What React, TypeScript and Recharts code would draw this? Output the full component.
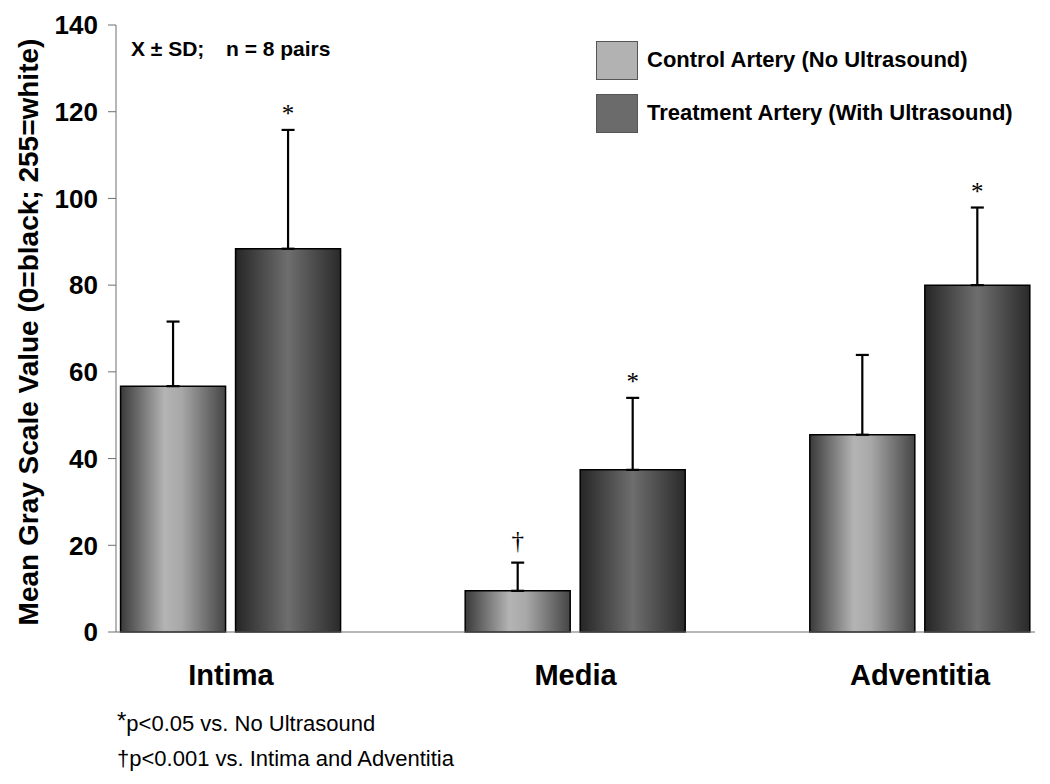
import React from 'react';
import { BarChart, Bar, XAxis, YAxis, ErrorBar, LabelList, Legend } from 'recharts';

// values (mean gray scale, +SD)
const categories = ['Intima', 'Media', 'Adventitia'];
const controlMean = [56.7, 9.5, 45.5];
const controlSd = [14.9, 6.5, 18.4];
const treatmentMean = [88.4, 37.4, 80.0];
const treatmentSd = [27.4, 16.6, 17.9];
const controlMarks = ['', '†', ''];
const treatmentMarks = ['*', '*', '*'];
const yTicks = [0, 20, 40, 60, 80, 100, 120, 140];

const seriesNames = ['Control Artery (No Ultrasound)', 'Treatment Artery (With Ultrasound)'];
const seriesSwatch = ['#b2b2b2', '#6b6b6b'];

const data = categories.map((name, i) => ({
  name,
  idx: i,
  control: controlMean[i],
  controlErr: [0, controlSd[i]],
  treatment: treatmentMean[i],
  treatmentErr: [0, treatmentSd[i]],
}));

const FONT = '"Liberation Sans", Arial, sans-serif';
const FRAME = '#6e6e6e';

function makeMark(marks: string[], means: number[], sds: number[]) {
  return (props: any) => {
    const { x, y, width, height, value } = props;
    const i = Number(value);
    const m = marks[i];
    if (!m) return null;
    // pixel per unit from the bar itself
    const k = height / means[i];
    const capY = y - sds[i] * k;
    const off = m === '*' ? 8 : 14;
    return (
      <text
        x={x + width / 2}
        y={capY - off}
        textAnchor="middle"
        fontFamily='"Liberation Serif", "Times New Roman", serif'
        fontSize={25}
        fill="#000"
      >
        {m}
      </text>
    );
  };
}

function LegendBox() {
  return (
    <div style={{ fontFamily: FONT }}>
      {seriesNames.map((n, i) => (
        <div key={n} style={{ display: 'flex', alignItems: 'center', height: 40, marginBottom: i === 0 ? 13 : 0 }}>
          <div
            style={{
              width: 42,
              height: 39,
              background: seriesSwatch[i],
              border: '1px solid #555',
              boxSizing: 'border-box',
            }}
          />
          <span style={{ marginLeft: 9, fontSize: 22, fontWeight: 'bold', color: '#000', whiteSpace: 'nowrap' }}>{n}</span>
        </div>
      ))}
    </div>
  );
}

export default function App() {
  return (
    <div style={{ position: 'absolute', left: 0, top: 0, width: 1050, height: 784, background: '#fff' }}>
      <BarChart
        width={1050}
        height={784}
        data={data}
        margin={{ top: 25, right: 15, bottom: 92, left: 40 }}
        barGap={10}
      >
        <defs>
          <linearGradient id="gradControl" x1="0" y1="0" x2="1" y2="0">
            <stop offset="0%" stopColor="#3a3a3a" />
            <stop offset="42%" stopColor="#b4b4b4" />
            <stop offset="58%" stopColor="#a8a8a8" />
            <stop offset="100%" stopColor="#454545" />
          </linearGradient>
          <linearGradient id="gradTreat" x1="0" y1="0" x2="1" y2="0">
            <stop offset="0%" stopColor="#262626" />
            <stop offset="50%" stopColor="#6e6e6e" />
            <stop offset="100%" stopColor="#2a2a2a" />
          </linearGradient>
        </defs>
        <XAxis
          type="number"
          dataKey="idx"
          domain={[-1 / 3, 7 / 3]}
          ticks={[0, 1, 2]}
          interval={0}
          tickFormatter={(v: number) => categories[v] ?? ''}
          tickLine={false}
          tickMargin={26}
          height={60}
          axisLine={{ stroke: FRAME }}
          tick={{ fontFamily: FONT, fontSize: 29, fontWeight: 'bold', fill: '#000' }}
        />
        <XAxis
          xAxisId="top"
          orientation="top"
          type="number"
          domain={[-1 / 3, 7 / 3]}
          height={0}
          tick={false}
          tickLine={false}
          axisLine={{ stroke: FRAME }}
        />
        <YAxis
          domain={[0, 140]}
          ticks={yTicks}
          interval={0}
          width={76}
          tickSize={8}
          tickMargin={10}
          axisLine={{ stroke: FRAME }}
          tickLine={{ stroke: FRAME }}
          tick={{ fontFamily: FONT, fontSize: 26, fontWeight: 'bold', fill: '#000' }}
        />
        <YAxis
          yAxisId="right"
          orientation="right"
          domain={[0, 140]}
          width={0}
          tick={false}
          tickLine={false}
          axisLine={{ stroke: FRAME }}
        />
        <Legend
          layout="vertical"
          align="center"
          verticalAlign="middle"
          wrapperStyle={{ top: 40, left: 596, width: 450 }}
          content={() => <LegendBox />}
        />
        <Bar dataKey="control" barSize={105} fill="url(#gradControl)" stroke="#000" strokeWidth={1.5} isAnimationActive={false}>
          <ErrorBar dataKey="controlErr" width={6.5} stroke="#000" strokeWidth={2.2} direction="y" />
          <LabelList dataKey="idx" content={makeMark(controlMarks, controlMean, controlSd)} />
        </Bar>
        <Bar dataKey="treatment" barSize={105} fill="url(#gradTreat)" stroke="#000" strokeWidth={1.5} isAnimationActive={false}>
          <ErrorBar dataKey="treatmentErr" width={6.5} stroke="#000" strokeWidth={2.2} direction="y" />
          <LabelList dataKey="idx" content={makeMark(treatmentMarks, treatmentMean, treatmentSd)} />
        </Bar>
        <text
          transform="translate(38, 332) rotate(-90)"
          textAnchor="middle"
          fontFamily={FONT}
          fontSize={28}
          fontWeight="bold"
          fill="#000"
        >
          Mean Gray Scale Value (0=black; 255=white)
        </text>
        <text x={131} y={56} fontFamily={FONT} fontSize={21} fontWeight="bold" fill="#000">
          X ± SD;
        </text>
        <text x={226} y={56} fontFamily={FONT} fontSize={21} fontWeight="bold" fill="#000">
          n = 8 pairs
        </text>
      </BarChart>
      <div style={{ position: 'absolute', left: 117, top: 705, fontFamily: FONT, fontSize: 22, color: '#000', lineHeight: '35px' }}>
        <div>
          <span style={{ fontSize: 24, position: 'relative', top: -2 }}>*</span>p&lt;0.05 vs. No Ultrasound
        </div>
        <div>†p&lt;0.001 vs. Intima and Adventitia</div>
      </div>
    </div>
  );
}
